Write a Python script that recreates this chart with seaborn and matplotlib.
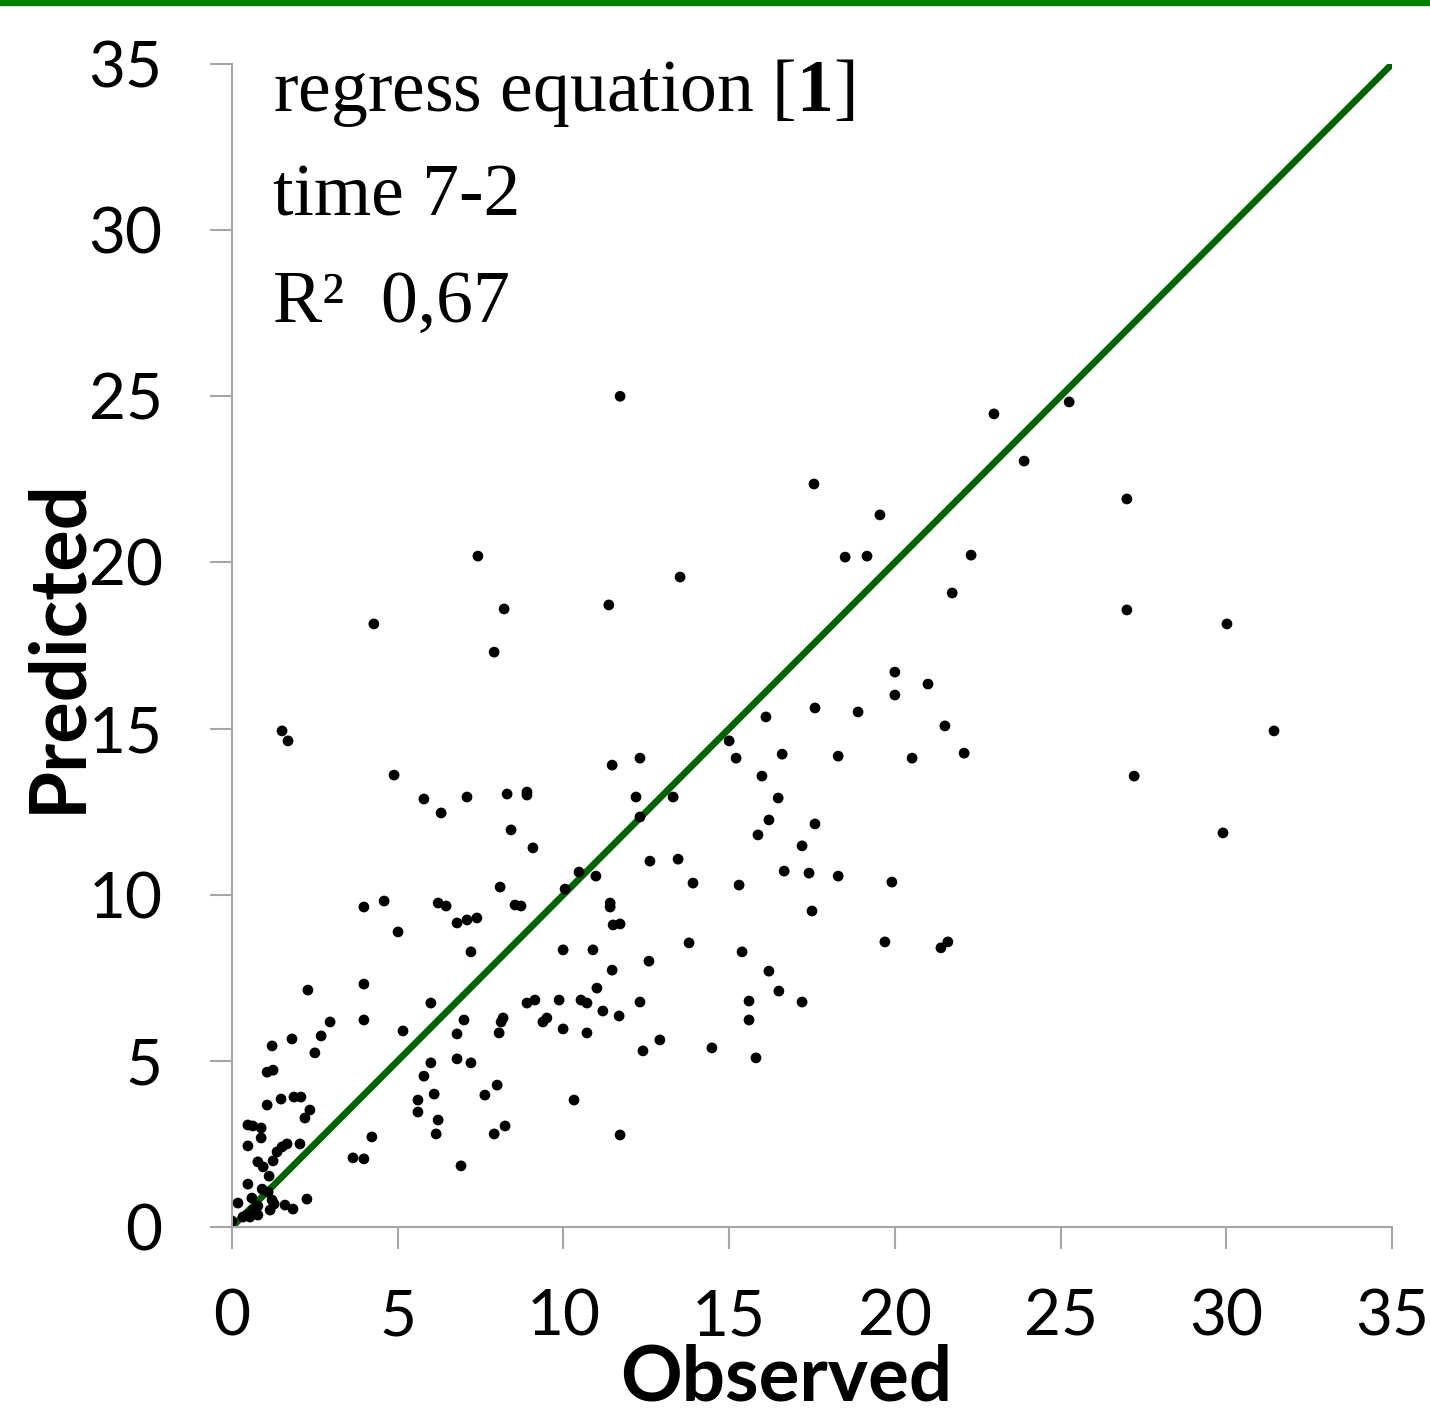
import numpy as np
import pandas as pd
import seaborn as sns
import matplotlib
matplotlib.use("Agg")
import matplotlib.pyplot as plt
from matplotlib.patches import Rectangle

observed = [
    0.00, 0.33, 0.54, 0.45, 0.78, 0.63, 1.15, 0.78, 1.84, 1.60, 1.27, 1.21, 0.60, 0.18, 2.26,
    1.09, 0.91, 0.48, 1.12, 0.94, 1.24, 0.78, 3.98, 3.65, 4.22, 1.36, 1.51, 1.66, 2.05, 0.48,
    0.88, 0.88, 0.63, 0.48, 2.20, 2.35, 1.06, 2.08, 1.87, 1.48, 1.24, 1.06, 2.50, 1.21, 1.81,
    2.69, 5.16, 3.98, 2.96, 2.29, 3.98, 3.98, 1.51, 1.69, 4.28, 7.91, 8.21,
    4.89, 11.47, 12.31, 5.79, 7.09, 8.30, 8.90, 8.90, 6.31, 12.19, 13.31, 12.31, 8.42, 9.08,
    12.61, 13.46, 10.47, 10.98, 10.05, 8.09, 4.59, 6.22, 6.46, 8.54, 8.72, 11.41, 11.41,
    6.79, 7.09, 7.39, 11.50, 11.71, 5.01, 7.21, 9.99, 10.89, 12.58, 11.47, 11.01, 6.00,
    8.90, 9.14, 9.87, 10.53, 10.71, 12.31, 11.19, 11.68, 7.00, 6.79, 8.12, 8.18, 9.38, 9.50,
    8.06, 9.99, 10.71, 12.91, 12.40, 6.00, 6.79, 7.21, 5.79, 6.10, 5.61, 5.61, 8.00, 7.63,
    6.22, 6.16, 10.32, 7.91, 8.24, 11.71, 6.91,
    17.59, 16.11, 15.00, 15.21, 16.60, 18.29, 15.99, 16.48, 17.59, 16.20, 15.87, 17.20,
    16.66, 17.41, 18.29, 13.91, 15.30, 17.50, 13.79, 15.39, 16.20, 16.50, 15.60, 17.20,
    15.60, 14.48, 15.81,
    22.99, 23.90, 17.56, 19.55, 18.50, 19.16, 22.30, 21.73, 20.00, 21.00, 20.00, 18.89,
    21.51, 20.52, 22.09, 19.91, 19.70, 21.39, 21.60,
    25.26, 27.00, 27.00, 30.02, 31.44, 27.22, 29.90,
    11.71, 7.42, 13.52, 11.37,
]
predicted = [
    0.18, 0.30, 0.30, 0.36, 0.36, 0.51, 0.51, 0.63, 0.54, 0.66, 0.69, 0.81, 0.87, 0.72, 0.84,
    1.05, 1.14, 1.29, 1.53, 1.81, 1.99, 1.96, 2.05, 2.08, 2.71, 2.26, 2.41, 2.50, 2.50, 2.44,
    2.68, 2.98, 3.04, 3.07, 3.28, 3.52, 3.67, 3.91, 3.91, 3.85, 4.72, 4.66, 5.24, 5.45, 5.66,
    5.75, 5.90, 6.23, 6.17, 7.13, 7.31, 9.63, 14.93, 14.63, 18.15, 17.30, 18.60,
    13.60, 13.90, 14.11, 12.88, 12.94, 13.03, 13.09, 13.00, 12.46, 12.94, 12.94, 12.34, 11.95, 11.41,
    11.01, 11.07, 10.68, 10.56, 10.17, 10.23, 9.81, 9.75, 9.66, 9.69, 9.66, 9.75, 9.63,
    9.15, 9.24, 9.30, 9.09, 9.12, 8.88, 8.28, 8.34, 8.34, 8.00, 7.73, 7.19, 6.74,
    6.74, 6.83, 6.83, 6.83, 6.74, 6.77, 6.50, 6.35, 6.23, 5.81, 6.17, 6.29, 6.17, 6.29,
    5.84, 5.96, 5.84, 5.63, 5.30, 4.94, 5.06, 4.94, 4.54, 4.00, 3.82, 3.46, 4.27, 3.97,
    3.22, 2.80, 3.82, 2.80, 3.04, 2.77, 1.84,
    15.62, 15.35, 14.63, 14.11, 14.23, 14.17, 13.57, 12.91, 12.13, 12.25, 11.80, 11.47,
    10.71, 10.65, 10.56, 10.35, 10.29, 9.51, 8.55, 8.28, 7.70, 7.10, 6.80, 6.77,
    6.23, 5.39, 5.09,
    24.47, 23.05, 22.36, 21.43, 20.16, 20.19, 20.22, 19.08, 16.70, 16.34, 16.01, 15.50,
    15.08, 14.11, 14.26, 10.38, 8.58, 8.40, 8.58,
    24.83, 21.91, 18.57, 18.15, 14.93, 13.57, 11.86,
    25.00, 20.19, 19.56, 18.72,
]
ticks = [0, 5, 10, 15, 20, 25, 30, 35]
diag = [0, 35]

df = pd.DataFrame({"Observed": observed, "Predicted": predicted})

sns.set_theme(style="white")
plt.rcParams["font.family"] = ["Lato", "DejaVu Sans"]
plt.rcParams["mathtext.fontset"] = "custom"
plt.rcParams["mathtext.rm"] = "Liberation Serif"
plt.rcParams["mathtext.bf"] = "Liberation Serif:bold"

fig = plt.figure(figsize=(14.3, 14.16), dpi=100)
ax = fig.add_axes([232/1430, 1 - 1227/1416, 1160/1430, 1163/1416])

ax.plot(diag, diag, color="#006400", lw=4.8, zorder=1, solid_capstyle="butt")
sns.scatterplot(data=df, x="Observed", y="Predicted", ax=ax, color="black",
                s=60, edgecolor="none", zorder=2)

ax.set_xlim(0, 35)
ax.set_ylim(0, 35)
ax.set_xticks(ticks)
ax.set_yticks(ticks)
ax.set_xticklabels([str(t) for t in ticks])
ax.set_yticklabels([str(t) for t in ticks])
for s in ["top", "right"]:
    ax.spines[s].set_visible(False)
for s in ["left", "bottom"]:
    ax.spines[s].set_color("#A6A6A6")
    ax.spines[s].set_linewidth(1.5)
ax.tick_params(axis="both", which="major", direction="out", length=16, width=1.5,
               color="#A6A6A6", labelsize=46, labelcolor="black", left=True, bottom=True)
ax.tick_params(axis="y", pad=34)
ax.tick_params(axis="x", pad=28)

ax.set_xlabel("Observed", fontsize=55, fontweight="bold", color="black")
ax.set_ylabel("Predicted", fontsize=56, fontweight="bold", color="black")
ax.xaxis.set_label_coords(0.478, -0.100)
ax.yaxis.set_label_coords(-0.119, 0.5)

serif = dict(fontfamily="Liberation Serif", fontsize=53, color="black", va="baseline", ha="left")
ax.text(1.24, 33.6, r"regress equation [$\mathbf{1}$]", **serif)
ax.text(1.24, 30.45, "time 7-2", **serif)
ax.text(1.24, 27.23, "R²  0,67", **serif)

fig.patches.append(Rectangle((0, 1 - 5/1416), 1, 5/1416, transform=fig.transFigure,
                             color="#008000", zorder=0))

fig.savefig("out.png", dpi=100, facecolor="white")
